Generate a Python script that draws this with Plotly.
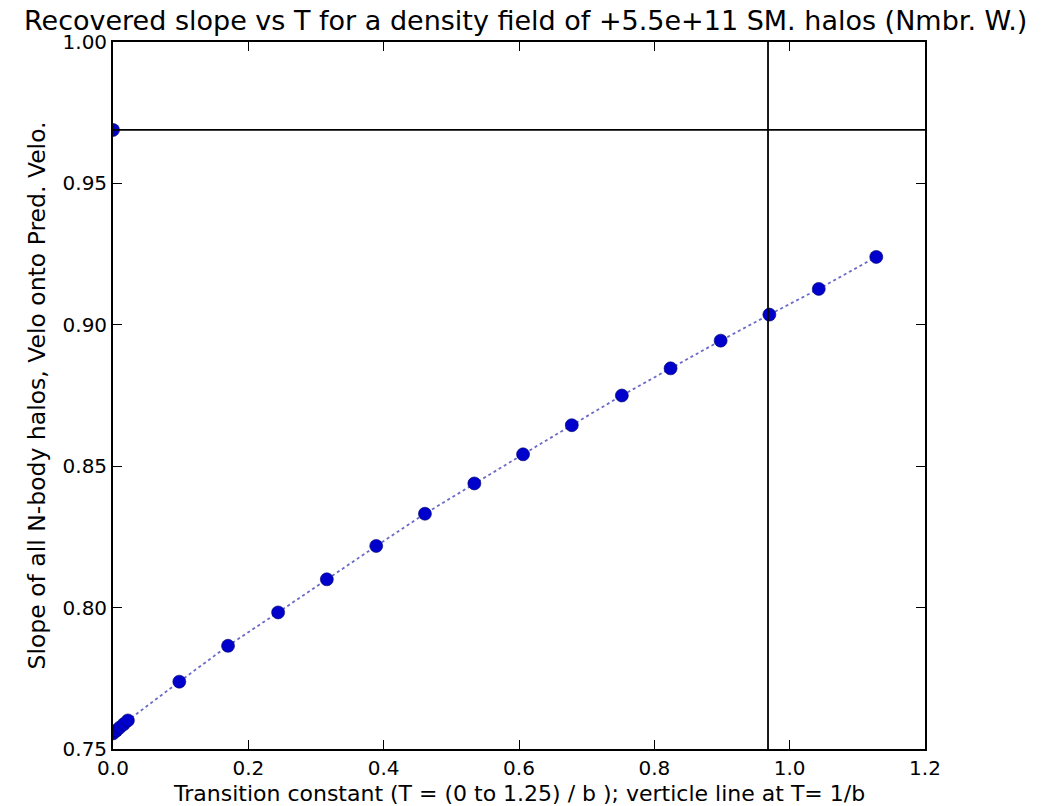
import plotly.graph_objects as go

# Data
T_values = [0.0, 0.005, 0.010, 0.016, 0.022,
            0.098, 0.170, 0.244, 0.316, 0.389, 0.461, 0.534, 0.606,
            0.678, 0.752, 0.824, 0.898, 0.970, 1.043, 1.128]
slope_values = [0.7555, 0.7565, 0.7576, 0.7588, 0.7601,
                0.7738, 0.7865, 0.7983, 0.8100, 0.8218, 0.8332, 0.8439, 0.8542,
                0.8645, 0.8750, 0.8846, 0.8944, 0.9036, 0.9127, 0.9240]
ref_point_T = [0.0]
ref_point_slope = [0.9689]
vline_T = 0.968
hline_slope = 0.9689

x_ticks = [0.0, 0.2, 0.4, 0.6, 0.8, 1.0, 1.2]
y_ticks = [0.75, 0.80, 0.85, 0.90, 0.95, 1.00]

FONT = "DejaVu Sans"

fig = go.Figure()

fig.add_trace(go.Scatter(
    x=T_values, y=slope_values, mode="lines",
    line=dict(color="rgba(80,80,190,0.85)", width=1.8, dash="dot"),
    showlegend=False, hoverinfo="skip"))
fig.add_trace(go.Scatter(
    x=T_values, y=slope_values, mode="markers",
    marker=dict(color="#0000cc", size=13, line=dict(color="#000066", width=0.6)),
    showlegend=False))
fig.add_trace(go.Scatter(
    x=ref_point_T, y=ref_point_slope, mode="markers",
    marker=dict(color="#0000cc", size=13, line=dict(color="#000066", width=0.6)),
    showlegend=False))

fig.add_shape(type="line", xref="x", yref="paper", x0=vline_T, x1=vline_T, y0=0, y1=1,
              line=dict(color="black", width=1.8))
fig.add_shape(type="line", xref="paper", yref="y", x0=0, x1=1, y0=hline_slope, y1=hline_slope,
              line=dict(color="black", width=1.8))

axis_common = dict(
    showgrid=False, zeroline=False, showline=True, linecolor="black", linewidth=1.8,
    mirror="allticks", ticks="inside", ticklen=9, tickwidth=1, tickcolor="black",
    tickfont=dict(family=FONT, size=20, color="black"),
)

fig.update_xaxes(range=[0, 1.2], tickvals=x_ticks,
                 ticktext=[f"{v:.1f}" for v in x_ticks], **axis_common)
fig.update_yaxes(range=[0.75, 1.0], tickvals=y_ticks,
                 ticktext=[f"{v:.2f}" for v in y_ticks], **axis_common)

fig.add_annotation(text="Recovered slope vs T for a density field of +5.5e+11 SM. halos (Nmbr. W.)",
                   xref="paper", yref="paper", x=0.5, y=1, yshift=22, xshift=6, showarrow=False,
                   xanchor="center", yanchor="middle",
                   font=dict(family=FONT, size=27, color="black"))
fig.add_annotation(text="Transition constant (T = (0 to 1.25) / b ); verticle line at T= 1/b",
                   xref="paper", yref="paper", x=0.5, y=0, yshift=-44, showarrow=False,
                   xanchor="center", yanchor="middle",
                   font=dict(family=FONT, size=22, color="black"))
fig.add_annotation(text="Slope of all N-body halos, Velo onto Pred. Velo.",
                   xref="paper", yref="paper", x=0, y=0.5, xshift=-77, showarrow=False,
                   xanchor="center", yanchor="middle", textangle=-90,
                   font=dict(family=FONT, size=23.5, color="black"))

fig.update_layout(
    width=1039, height=798,
    margin=dict(l=105, r=122, t=34, b=57),
    paper_bgcolor="white", plot_bgcolor="white",
    font=dict(family=FONT, color="black"),
)

fig.write_html("out.html")
